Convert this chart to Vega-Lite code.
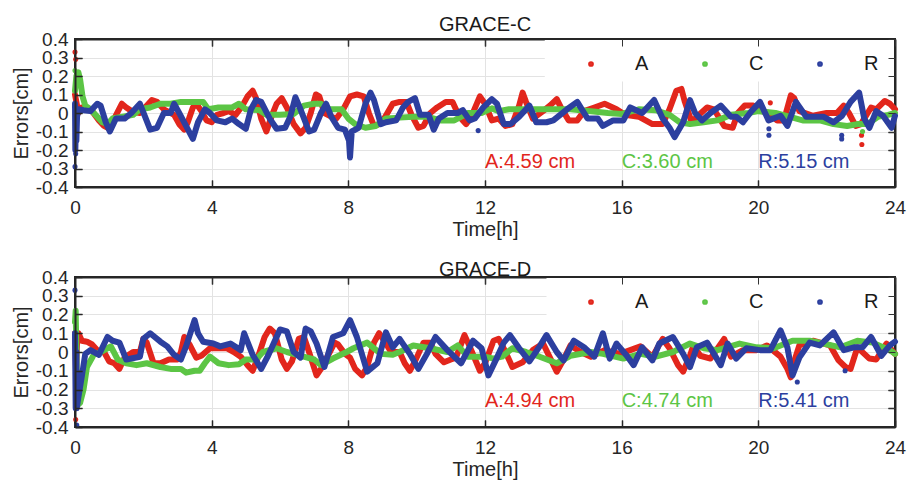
{
  "$schema": "https://vega.github.io/schema/vega-lite/v6.json",
  "padding": {"left": 10, "top": 14, "right": 8, "bottom": 0},
  "config": {
    "font": "Liberation Sans",
    "view": {"stroke": "#262626", "strokeWidth": 2},
    "axis": {
      "labelFont": "Liberation Sans", "titleFont": "Liberation Sans",
      "labelFontSize": 19, "titleFontSize": 20, "titleFontWeight": "normal",
      "labelColor": "#262626", "titleColor": "#262626",
      "gridColor": "#e3e3e3", "gridWidth": 1,
      "labelOverlap": false
    },
    "title": {"font": "Liberation Sans", "fontSize": 20, "fontWeight": "normal", "color": "#1a1a1a"},
    "legend": {"labelFont": "Liberation Sans"}
  },
  "resolve": {"legend": {"color": "independent"}},
  "spacing": 19,
  "datasets": {
    "c": [
      {"t":0,"s":"A","v":0.1},{"t":0.05,"s":"A","v":0.05},{"t":0.1,"s":"A","v":0.0},{"t":0.2,"s":"A","v":0.03},{"t":0.35,"s":"A","v":0.02},{"t":0.5,"s":"A","v":0.01},{"t":0.7,"s":"A","v":-0.04},{"t":0.85,"s":"A","v":-0.07},{"t":1.0,"s":"A","v":-0.085},{"t":1.15,"s":"A","v":-0.03},{"t":1.37,"s":"A","v":0.05},{"t":1.5,"s":"A","v":0.03},{"t":1.7,"s":"A","v":0.005},{"t":1.9,"s":"A","v":0.0},{"t":2.05,"s":"A","v":0.03},{"t":2.25,"s":"A","v":0.07},{"t":2.4,"s":"A","v":0.06},{"t":2.6,"s":"A","v":0.02},{"t":2.9,"s":"A","v":-0.01},{"t":3.05,"s":"A","v":-0.06},{"t":3.2,"s":"A","v":-0.09},{"t":3.3,"s":"A","v":-0.05},{"t":3.45,"s":"A","v":0.03},{"t":3.55,"s":"A","v":0.05},{"t":3.7,"s":"A","v":0.01},{"t":3.85,"s":"A","v":-0.04},{"t":4.0,"s":"A","v":-0.05},{"t":4.15,"s":"A","v":-0.01},{"t":4.35,"s":"A","v":0.0},{"t":4.5,"s":"A","v":0.01},{"t":4.7,"s":"A","v":-0.01},{"t":4.9,"s":"A","v":0.04},{"t":5.05,"s":"A","v":0.09},{"t":5.2,"s":"A","v":0.12},{"t":5.3,"s":"A","v":0.08},{"t":5.45,"s":"A","v":-0.03},{"t":5.6,"s":"A","v":-0.1},{"t":5.75,"s":"A","v":-0.02},{"t":5.9,"s":"A","v":0.05},{"t":6.05,"s":"A","v":0.08},{"t":6.2,"s":"A","v":0.03},{"t":6.4,"s":"A","v":-0.06},{"t":6.6,"s":"A","v":-0.11},{"t":6.75,"s":"A","v":-0.08},{"t":6.9,"s":"A","v":0.0},{"t":7.05,"s":"A","v":0.1},{"t":7.15,"s":"A","v":0.09},{"t":7.3,"s":"A","v":0.0},{"t":7.5,"s":"A","v":-0.02},{"t":7.65,"s":"A","v":-0.03},{"t":7.85,"s":"A","v":0.02},{"t":8.05,"s":"A","v":0.09},{"t":8.25,"s":"A","v":0.1},{"t":8.45,"s":"A","v":0.09},{"t":8.6,"s":"A","v":0.0},{"t":8.75,"s":"A","v":-0.07},{"t":8.9,"s":"A","v":-0.06},{"t":9.05,"s":"A","v":-0.03},{"t":9.3,"s":"A","v":0.05},{"t":9.5,"s":"A","v":0.06},{"t":9.7,"s":"A","v":0.06},{"t":9.85,"s":"A","v":-0.01},{"t":10.05,"s":"A","v":-0.08},{"t":10.2,"s":"A","v":-0.07},{"t":10.4,"s":"A","v":0.0},{"t":10.6,"s":"A","v":0.03},{"t":10.85,"s":"A","v":0.06},{"t":11.05,"s":"A","v":0.06},{"t":11.25,"s":"A","v":-0.02},{"t":11.45,"s":"A","v":-0.06},{"t":11.6,"s":"A","v":-0.02},{"t":11.85,"s":"A","v":0.09},{"t":12.0,"s":"A","v":0.05},{"t":12.2,"s":"A","v":-0.04},{"t":12.4,"s":"A","v":-0.03},{"t":12.6,"s":"A","v":-0.07},{"t":12.8,"s":"A","v":-0.06},{"t":13.0,"s":"A","v":0.04},{"t":13.1,"s":"A","v":0.11},{"t":13.2,"s":"A","v":0.06},{"t":13.4,"s":"A","v":-0.03},{"t":13.7,"s":"A","v":0.01},{"t":13.9,"s":"A","v":0.04},{"t":14.1,"s":"A","v":0.075},{"t":14.25,"s":"A","v":0.02},{"t":14.45,"s":"A","v":-0.04},{"t":14.7,"s":"A","v":-0.04},{"t":14.9,"s":"A","v":0.01},{"t":15.2,"s":"A","v":0.03},{"t":15.5,"s":"A","v":0.05},{"t":15.85,"s":"A","v":0.02},{"t":16.1,"s":"A","v":-0.01},{"t":16.5,"s":"A","v":-0.02},{"t":16.9,"s":"A","v":-0.06},{"t":17.2,"s":"A","v":-0.06},{"t":17.4,"s":"A","v":0.02},{"t":17.6,"s":"A","v":0.12},{"t":17.75,"s":"A","v":0.13},{"t":17.85,"s":"A","v":0.06},{"t":18.05,"s":"A","v":-0.05},{"t":18.2,"s":"A","v":-0.02},{"t":18.5,"s":"A","v":0.03},{"t":18.7,"s":"A","v":0.02},{"t":19.0,"s":"A","v":-0.07},{"t":19.25,"s":"A","v":-0.08},{"t":19.4,"s":"A","v":0.0},{"t":19.6,"s":"A","v":0.04},{"t":19.85,"s":"A","v":0.04},{"t":20.1,"s":"A","v":0.01},{"t":20.3,"s":"A","v":0.0},{"t":20.55,"s":"A","v":-0.04},{"t":20.75,"s":"A","v":-0.04},{"t":20.95,"s":"A","v":0.095},{"t":21.05,"s":"A","v":0.08},{"t":21.2,"s":"A","v":0.01},{"t":21.6,"s":"A","v":-0.015},{"t":22.0,"s":"A","v":0.0},{"t":22.3,"s":"A","v":0.0},{"t":22.5,"s":"A","v":0.04},{"t":22.65,"s":"A","v":0.0},{"t":22.85,"s":"A","v":-0.07},{"t":23.0,"s":"A","v":-0.06},{"t":23.3,"s":"A","v":0.03},{"t":23.45,"s":"A","v":0.02},{"t":23.7,"s":"A","v":0.065},{"t":23.85,"s":"A","v":0.05},{"t":24,"s":"A","v":0.02},
      {"t":0,"s":"A","v":0.33,"o":1},{"t":0.02,"s":"A","v":0.29,"o":1},{"t":23.02,"s":"A","v":-0.12,"o":1},{"t":23.03,"s":"A","v":-0.17,"o":1},{"t":20.35,"s":"A","v":0.055,"o":1},
      {"t":0,"s":"C","v":0.12},{"t":0.04,"s":"C","v":0.2},{"t":0.1,"s":"C","v":0.22},{"t":0.15,"s":"C","v":0.18},{"t":0.22,"s":"C","v":0.09},{"t":0.3,"s":"C","v":0.04},{"t":0.45,"s":"C","v":0.02},{"t":0.6,"s":"C","v":-0.01},{"t":0.8,"s":"C","v":-0.05},{"t":0.95,"s":"C","v":-0.06},{"t":1.1,"s":"C","v":-0.03},{"t":1.4,"s":"C","v":-0.02},{"t":1.7,"s":"C","v":-0.01},{"t":1.9,"s":"C","v":0.02},{"t":2.2,"s":"C","v":0.03},{"t":2.5,"s":"C","v":0.05},{"t":2.8,"s":"C","v":0.05},{"t":3.1,"s":"C","v":0.06},{"t":3.5,"s":"C","v":0.06},{"t":3.75,"s":"C","v":0.06},{"t":3.9,"s":"C","v":0.02},{"t":4.2,"s":"C","v":0.03},{"t":4.6,"s":"C","v":0.03},{"t":4.8,"s":"C","v":0.05},{"t":5.0,"s":"C","v":0.02},{"t":5.4,"s":"C","v":0.015},{"t":5.6,"s":"C","v":-0.01},{"t":6.0,"s":"C","v":-0.01},{"t":6.4,"s":"C","v":-0.005},{"t":6.7,"s":"C","v":0.04},{"t":7.0,"s":"C","v":0.05},{"t":7.2,"s":"C","v":0.05},{"t":7.45,"s":"C","v":0.02},{"t":7.8,"s":"C","v":0.02},{"t":8.0,"s":"C","v":-0.03},{"t":8.2,"s":"C","v":-0.06},{"t":8.5,"s":"C","v":-0.08},{"t":8.8,"s":"C","v":-0.07},{"t":9.1,"s":"C","v":-0.03},{"t":9.5,"s":"C","v":-0.025},{"t":9.9,"s":"C","v":-0.02},{"t":10.3,"s":"C","v":-0.02},{"t":10.7,"s":"C","v":-0.04},{"t":11.1,"s":"C","v":-0.04},{"t":11.5,"s":"C","v":0.0},{"t":11.9,"s":"C","v":0.0},{"t":12.2,"s":"C","v":0.025},{"t":12.4,"s":"C","v":0.01},{"t":12.7,"s":"C","v":0.02},{"t":13.2,"s":"C","v":0.02},{"t":13.8,"s":"C","v":0.02},{"t":14.5,"s":"C","v":0.02},{"t":15.1,"s":"C","v":0.01},{"t":15.6,"s":"C","v":0.0},{"t":16.0,"s":"C","v":-0.005},{"t":16.5,"s":"C","v":0.02},{"t":17.0,"s":"C","v":0.015},{"t":17.4,"s":"C","v":-0.01},{"t":17.7,"s":"C","v":-0.05},{"t":18.0,"s":"C","v":-0.06},{"t":18.4,"s":"C","v":-0.05},{"t":18.8,"s":"C","v":-0.04},{"t":19.2,"s":"C","v":-0.01},{"t":19.7,"s":"C","v":0.0},{"t":20.0,"s":"C","v":0.01},{"t":20.5,"s":"C","v":0.0},{"t":20.9,"s":"C","v":-0.02},{"t":21.3,"s":"C","v":-0.04},{"t":21.8,"s":"C","v":-0.04},{"t":22.2,"s":"C","v":-0.06},{"t":22.6,"s":"C","v":-0.07},{"t":22.9,"s":"C","v":-0.06},{"t":23.2,"s":"C","v":-0.06},{"t":23.5,"s":"C","v":-0.02},{"t":23.8,"s":"C","v":-0.01},{"t":24,"s":"C","v":0.0},
      {"t":0,"s":"C","v":0.23,"o":1},{"t":23.05,"s":"C","v":-0.1,"o":1},
      {"t":0,"s":"R","v":0.05},{"t":0.01,"s":"R","v":-0.2},{"t":0.02,"s":"R","v":-0.1},{"t":0.04,"s":"R","v":-0.15},{"t":0.06,"s":"R","v":-0.02},{"t":0.1,"s":"R","v":0.02},{"t":0.25,"s":"R","v":0.015},{"t":0.45,"s":"R","v":0.01},{"t":0.65,"s":"R","v":0.05},{"t":0.75,"s":"R","v":0.04},{"t":0.9,"s":"R","v":-0.05},{"t":1.02,"s":"R","v":-0.1},{"t":1.2,"s":"R","v":-0.03},{"t":1.45,"s":"R","v":-0.03},{"t":1.65,"s":"R","v":0.0},{"t":1.9,"s":"R","v":0.05},{"t":2.05,"s":"R","v":-0.02},{"t":2.2,"s":"R","v":-0.09},{"t":2.4,"s":"R","v":-0.08},{"t":2.6,"s":"R","v":0.0},{"t":2.8,"s":"R","v":0.0},{"t":2.9,"s":"R","v":0.05},{"t":3.05,"s":"R","v":0.0},{"t":3.25,"s":"R","v":-0.07},{"t":3.45,"s":"R","v":-0.14},{"t":3.6,"s":"R","v":-0.05},{"t":3.8,"s":"R","v":0.02},{"t":3.95,"s":"R","v":0.0},{"t":4.15,"s":"R","v":-0.04},{"t":4.4,"s":"R","v":-0.05},{"t":4.6,"s":"R","v":-0.03},{"t":4.8,"s":"R","v":-0.06},{"t":5.0,"s":"R","v":-0.085},{"t":5.15,"s":"R","v":0.02},{"t":5.3,"s":"R","v":0.07},{"t":5.45,"s":"R","v":0.06},{"t":5.7,"s":"R","v":-0.03},{"t":5.9,"s":"R","v":-0.085},{"t":6.15,"s":"R","v":-0.08},{"t":6.3,"s":"R","v":-0.02},{"t":6.45,"s":"R","v":0.085},{"t":6.6,"s":"R","v":0.02},{"t":6.85,"s":"R","v":-0.1},{"t":7.0,"s":"R","v":-0.09},{"t":7.2,"s":"R","v":0.0},{"t":7.35,"s":"R","v":0.05},{"t":7.5,"s":"R","v":-0.02},{"t":7.7,"s":"R","v":-0.08},{"t":7.9,"s":"R","v":-0.09},{"t":8.02,"s":"R","v":-0.15},{"t":8.05,"s":"R","v":-0.24},{"t":8.1,"s":"R","v":-0.1},{"t":8.3,"s":"R","v":-0.08},{"t":8.5,"s":"R","v":0.05},{"t":8.65,"s":"R","v":0.11},{"t":8.75,"s":"R","v":0.07},{"t":8.95,"s":"R","v":-0.06},{"t":9.1,"s":"R","v":-0.05},{"t":9.4,"s":"R","v":-0.04},{"t":9.6,"s":"R","v":0.03},{"t":9.75,"s":"R","v":0.06},{"t":9.95,"s":"R","v":0.08},{"t":10.1,"s":"R","v":-0.01},{"t":10.35,"s":"R","v":-0.01},{"t":10.5,"s":"R","v":-0.09},{"t":10.65,"s":"R","v":-0.03},{"t":10.9,"s":"R","v":0.0},{"t":11.2,"s":"R","v":0.0},{"t":11.35,"s":"R","v":0.015},{"t":11.55,"s":"R","v":-0.04},{"t":11.7,"s":"R","v":-0.03},{"t":11.95,"s":"R","v":0.03},{"t":12.2,"s":"R","v":0.075},{"t":12.35,"s":"R","v":0.05},{"t":12.55,"s":"R","v":-0.06},{"t":12.75,"s":"R","v":-0.06},{"t":13.0,"s":"R","v":-0.02},{"t":13.3,"s":"R","v":0.04},{"t":13.5,"s":"R","v":-0.05},{"t":13.8,"s":"R","v":-0.05},{"t":14.0,"s":"R","v":-0.04},{"t":14.4,"s":"R","v":0.02},{"t":14.7,"s":"R","v":0.06},{"t":15.0,"s":"R","v":-0.03},{"t":15.3,"s":"R","v":-0.03},{"t":15.45,"s":"R","v":-0.07},{"t":15.75,"s":"R","v":-0.04},{"t":16.05,"s":"R","v":-0.04},{"t":16.25,"s":"R","v":0.03},{"t":16.6,"s":"R","v":0.0},{"t":16.95,"s":"R","v":0.07},{"t":17.2,"s":"R","v":-0.03},{"t":17.4,"s":"R","v":-0.08},{"t":17.55,"s":"R","v":-0.13},{"t":17.8,"s":"R","v":-0.05},{"t":18.0,"s":"R","v":0.07},{"t":18.15,"s":"R","v":0.0},{"t":18.35,"s":"R","v":-0.04},{"t":18.6,"s":"R","v":0.0},{"t":18.9,"s":"R","v":0.04},{"t":19.2,"s":"R","v":-0.02},{"t":19.35,"s":"R","v":-0.02},{"t":19.55,"s":"R","v":-0.05},{"t":19.8,"s":"R","v":0.01},{"t":20.05,"s":"R","v":0.06},{"t":20.3,"s":"R","v":-0.04},{"t":20.65,"s":"R","v":-0.015},{"t":20.85,"s":"R","v":-0.07},{"t":21.1,"s":"R","v":0.06},{"t":21.4,"s":"R","v":-0.02},{"t":21.9,"s":"R","v":-0.02},{"t":22.2,"s":"R","v":-0.05},{"t":22.45,"s":"R","v":-0.015},{"t":22.7,"s":"R","v":0.06},{"t":22.95,"s":"R","v":0.11},{"t":23.1,"s":"R","v":-0.03},{"t":23.25,"s":"R","v":-0.08},{"t":23.45,"s":"R","v":0.01},{"t":23.65,"s":"R","v":-0.015},{"t":23.9,"s":"R","v":-0.08},{"t":24,"s":"R","v":-0.015},
      {"t":0,"s":"R","v":-0.29,"o":1},{"t":0.02,"s":"R","v":-0.22,"o":1},{"t":11.8,"s":"R","v":-0.095,"o":1},{"t":20.31,"s":"R","v":-0.085,"o":1},{"t":20.31,"s":"R","v":-0.12,"o":1},{"t":22.44,"s":"R","v":-0.12,"o":1},{"t":22.44,"s":"R","v":-0.14,"o":1}
    ],
    "d": [
      {"t":0,"s":"A","v":0.1},{"t":0.03,"s":"A","v":-0.1},{"t":0.06,"s":"A","v":0.05},{"t":0.1,"s":"A","v":0.1},{"t":0.2,"s":"A","v":0.06},{"t":0.35,"s":"A","v":0.055},{"t":0.5,"s":"A","v":0.04},{"t":0.7,"s":"A","v":0.0},{"t":0.85,"s":"A","v":0.0},{"t":1.0,"s":"A","v":-0.05},{"t":1.15,"s":"A","v":-0.06},{"t":1.3,"s":"A","v":-0.09},{"t":1.45,"s":"A","v":-0.03},{"t":1.7,"s":"A","v":0.0},{"t":1.9,"s":"A","v":0.0},{"t":2.0,"s":"A","v":0.07},{"t":2.1,"s":"A","v":0.05},{"t":2.3,"s":"A","v":-0.06},{"t":2.5,"s":"A","v":-0.06},{"t":2.75,"s":"A","v":-0.04},{"t":3.0,"s":"A","v":-0.04},{"t":3.1,"s":"A","v":0.0},{"t":3.2,"s":"A","v":0.08},{"t":3.35,"s":"A","v":0.04},{"t":3.55,"s":"A","v":-0.03},{"t":3.7,"s":"A","v":-0.02},{"t":3.95,"s":"A","v":0.02},{"t":4.2,"s":"A","v":0.02},{"t":4.45,"s":"A","v":0.02},{"t":4.65,"s":"A","v":0.0},{"t":4.85,"s":"A","v":-0.025},{"t":5.05,"s":"A","v":-0.07},{"t":5.2,"s":"A","v":-0.1},{"t":5.35,"s":"A","v":-0.03},{"t":5.55,"s":"A","v":0.08},{"t":5.7,"s":"A","v":0.125},{"t":5.85,"s":"A","v":0.1},{"t":6.05,"s":"A","v":-0.04},{"t":6.2,"s":"A","v":-0.09},{"t":6.35,"s":"A","v":-0.05},{"t":6.55,"s":"A","v":0.07},{"t":6.7,"s":"A","v":0.08},{"t":6.85,"s":"A","v":0.0},{"t":7.07,"s":"A","v":-0.125},{"t":7.2,"s":"A","v":-0.09},{"t":7.4,"s":"A","v":-0.02},{"t":7.6,"s":"A","v":0.05},{"t":7.7,"s":"A","v":0.04},{"t":7.9,"s":"A","v":-0.01},{"t":8.05,"s":"A","v":-0.03},{"t":8.2,"s":"A","v":-0.09},{"t":8.4,"s":"A","v":-0.125},{"t":8.55,"s":"A","v":-0.08},{"t":8.75,"s":"A","v":0.05},{"t":8.9,"s":"A","v":0.1},{"t":9.05,"s":"A","v":0.06},{"t":9.25,"s":"A","v":0.0},{"t":9.5,"s":"A","v":0.0},{"t":9.65,"s":"A","v":-0.06},{"t":9.8,"s":"A","v":-0.1},{"t":9.95,"s":"A","v":-0.05},{"t":10.2,"s":"A","v":0.05},{"t":10.4,"s":"A","v":0.05},{"t":10.55,"s":"A","v":-0.01},{"t":10.8,"s":"A","v":-0.055},{"t":11.0,"s":"A","v":-0.04},{"t":11.15,"s":"A","v":-0.03},{"t":11.4,"s":"A","v":0.09},{"t":11.55,"s":"A","v":0.03},{"t":11.85,"s":"A","v":-0.1},{"t":12.0,"s":"A","v":-0.06},{"t":12.25,"s":"A","v":0.06},{"t":12.4,"s":"A","v":0.07},{"t":12.6,"s":"A","v":0.0},{"t":12.8,"s":"A","v":-0.08},{"t":13.1,"s":"A","v":-0.055},{"t":13.4,"s":"A","v":0.01},{"t":13.7,"s":"A","v":0.045},{"t":13.9,"s":"A","v":-0.03},{"t":14.1,"s":"A","v":-0.105},{"t":14.3,"s":"A","v":-0.04},{"t":14.5,"s":"A","v":0.035},{"t":14.8,"s":"A","v":0.0},{"t":15.1,"s":"A","v":-0.025},{"t":15.5,"s":"A","v":0.01},{"t":15.95,"s":"A","v":-0.01},{"t":16.25,"s":"A","v":0.01},{"t":16.55,"s":"A","v":0.03},{"t":16.9,"s":"A","v":-0.025},{"t":17.2,"s":"A","v":0.07},{"t":17.4,"s":"A","v":0.02},{"t":17.65,"s":"A","v":-0.07},{"t":17.8,"s":"A","v":-0.105},{"t":18.0,"s":"A","v":-0.02},{"t":18.1,"s":"A","v":0.035},{"t":18.3,"s":"A","v":-0.02},{"t":18.6,"s":"A","v":-0.035},{"t":19.0,"s":"A","v":0.07},{"t":19.2,"s":"A","v":-0.025},{"t":19.55,"s":"A","v":0.01},{"t":19.95,"s":"A","v":0.01},{"t":20.25,"s":"A","v":0.035},{"t":20.65,"s":"A","v":-0.025},{"t":20.85,"s":"A","v":-0.09},{"t":20.95,"s":"A","v":-0.135},{"t":21.05,"s":"A","v":-0.05},{"t":21.2,"s":"A","v":0.035},{"t":21.6,"s":"A","v":0.06},{"t":22.1,"s":"A","v":0.035},{"t":22.35,"s":"A","v":-0.045},{"t":22.55,"s":"A","v":-0.08},{"t":22.7,"s":"A","v":-0.09},{"t":22.9,"s":"A","v":0.025},{"t":23.25,"s":"A","v":-0.035},{"t":23.45,"s":"A","v":-0.04},{"t":23.75,"s":"A","v":0.045},{"t":24,"s":"A","v":-0.01},
      {"t":0.02,"s":"A","v":-0.36,"o":1},
      {"t":0,"s":"C","v":0.16},{"t":0.02,"s":"C","v":0.22},{"t":0.05,"s":"C","v":-0.1},{"t":0.1,"s":"C","v":-0.28},{"t":0.15,"s":"C","v":-0.27},{"t":0.25,"s":"C","v":-0.2},{"t":0.35,"s":"C","v":-0.08},{"t":0.55,"s":"C","v":-0.015},{"t":0.75,"s":"C","v":0.0},{"t":0.95,"s":"C","v":0.02},{"t":1.05,"s":"C","v":0.03},{"t":1.25,"s":"C","v":-0.04},{"t":1.5,"s":"C","v":-0.06},{"t":1.8,"s":"C","v":-0.07},{"t":2.1,"s":"C","v":-0.06},{"t":2.5,"s":"C","v":-0.08},{"t":2.8,"s":"C","v":-0.09},{"t":3.1,"s":"C","v":-0.09},{"t":3.25,"s":"C","v":-0.11},{"t":3.5,"s":"C","v":-0.1},{"t":3.65,"s":"C","v":-0.1},{"t":3.8,"s":"C","v":-0.06},{"t":3.95,"s":"C","v":-0.025},{"t":4.2,"s":"C","v":-0.06},{"t":4.5,"s":"C","v":-0.07},{"t":4.8,"s":"C","v":-0.065},{"t":5.0,"s":"C","v":-0.04},{"t":5.3,"s":"C","v":-0.04},{"t":5.5,"s":"C","v":0.0},{"t":5.9,"s":"C","v":0.02},{"t":6.2,"s":"C","v":0.0},{"t":6.5,"s":"C","v":-0.015},{"t":6.8,"s":"C","v":-0.03},{"t":7.0,"s":"C","v":-0.04},{"t":7.2,"s":"C","v":-0.07},{"t":7.55,"s":"C","v":-0.035},{"t":7.95,"s":"C","v":0.0},{"t":8.15,"s":"C","v":0.02},{"t":8.55,"s":"C","v":0.05},{"t":8.95,"s":"C","v":-0.01},{"t":9.3,"s":"C","v":-0.015},{"t":9.5,"s":"C","v":0.0},{"t":9.9,"s":"C","v":0.035},{"t":10.4,"s":"C","v":0.02},{"t":10.9,"s":"C","v":0.0},{"t":11.2,"s":"C","v":0.035},{"t":11.5,"s":"C","v":-0.025},{"t":12.0,"s":"C","v":-0.025},{"t":12.25,"s":"C","v":-0.035},{"t":12.5,"s":"C","v":-0.025},{"t":12.8,"s":"C","v":0.02},{"t":13.2,"s":"C","v":0.0},{"t":13.6,"s":"C","v":-0.025},{"t":14.1,"s":"C","v":-0.06},{"t":14.5,"s":"C","v":-0.02},{"t":15.1,"s":"C","v":0.0},{"t":15.45,"s":"C","v":-0.01},{"t":16.05,"s":"C","v":-0.035},{"t":16.55,"s":"C","v":-0.01},{"t":17.0,"s":"C","v":-0.025},{"t":17.5,"s":"C","v":0.0},{"t":18.0,"s":"C","v":0.045},{"t":18.4,"s":"C","v":0.02},{"t":18.8,"s":"C","v":0.01},{"t":19.45,"s":"C","v":0.045},{"t":19.95,"s":"C","v":0.025},{"t":20.45,"s":"C","v":0.02},{"t":21.0,"s":"C","v":0.06},{"t":21.5,"s":"C","v":0.06},{"t":21.9,"s":"C","v":0.045},{"t":22.4,"s":"C","v":0.025},{"t":22.9,"s":"C","v":0.06},{"t":23.35,"s":"C","v":0.05},{"t":23.85,"s":"C","v":0.01},{"t":24,"s":"C","v":-0.01},
      {"t":0,"s":"R","v":0.1},{"t":0.02,"s":"R","v":-0.3},{"t":0.04,"s":"R","v":0.0},{"t":0.05,"s":"R","v":-0.3},{"t":0.1,"s":"R","v":-0.24},{"t":0.2,"s":"R","v":-0.13},{"t":0.3,"s":"R","v":-0.01},{"t":0.45,"s":"R","v":0.01},{"t":0.7,"s":"R","v":-0.015},{"t":0.95,"s":"R","v":0.08},{"t":1.1,"s":"R","v":0.06},{"t":1.3,"s":"R","v":0.05},{"t":1.5,"s":"R","v":-0.04},{"t":1.9,"s":"R","v":-0.025},{"t":2.0,"s":"R","v":0.07},{"t":2.2,"s":"R","v":0.1},{"t":2.5,"s":"R","v":0.055},{"t":2.7,"s":"R","v":0.03},{"t":2.9,"s":"R","v":-0.015},{"t":3.1,"s":"R","v":-0.04},{"t":3.25,"s":"R","v":0.03},{"t":3.5,"s":"R","v":0.17},{"t":3.6,"s":"R","v":0.1},{"t":3.75,"s":"R","v":0.055},{"t":4.05,"s":"R","v":0.045},{"t":4.25,"s":"R","v":0.03},{"t":4.55,"s":"R","v":0.045},{"t":4.85,"s":"R","v":0.01},{"t":4.95,"s":"R","v":0.1},{"t":5.2,"s":"R","v":-0.015},{"t":5.45,"s":"R","v":-0.09},{"t":5.65,"s":"R","v":-0.02},{"t":5.8,"s":"R","v":0.04},{"t":6.0,"s":"R","v":0.12},{"t":6.2,"s":"R","v":0.11},{"t":6.4,"s":"R","v":0.0},{"t":6.6,"s":"R","v":-0.03},{"t":6.75,"s":"R","v":0.125},{"t":6.9,"s":"R","v":0.11},{"t":7.07,"s":"R","v":0.045},{"t":7.3,"s":"R","v":-0.08},{"t":7.55,"s":"R","v":0.08},{"t":7.85,"s":"R","v":0.1},{"t":8.05,"s":"R","v":0.17},{"t":8.25,"s":"R","v":0.08},{"t":8.55,"s":"R","v":-0.105},{"t":8.85,"s":"R","v":-0.06},{"t":9.1,"s":"R","v":0.105},{"t":9.3,"s":"R","v":0.025},{"t":9.5,"s":"R","v":0.07},{"t":9.8,"s":"R","v":-0.01},{"t":10.05,"s":"R","v":-0.09},{"t":10.3,"s":"R","v":-0.01},{"t":10.55,"s":"R","v":0.08},{"t":10.9,"s":"R","v":0.01},{"t":11.3,"s":"R","v":-0.06},{"t":11.65,"s":"R","v":0.06},{"t":11.9,"s":"R","v":0.02},{"t":12.1,"s":"R","v":-0.125},{"t":12.35,"s":"R","v":-0.03},{"t":12.55,"s":"R","v":0.05},{"t":12.73,"s":"R","v":0.09},{"t":13.0,"s":"R","v":0.02},{"t":13.3,"s":"R","v":-0.05},{"t":13.6,"s":"R","v":0.03},{"t":13.8,"s":"R","v":0.09},{"t":14.1,"s":"R","v":0.0},{"t":14.3,"s":"R","v":-0.045},{"t":14.6,"s":"R","v":0.06},{"t":14.9,"s":"R","v":0.025},{"t":15.2,"s":"R","v":-0.025},{"t":15.45,"s":"R","v":0.1},{"t":15.65,"s":"R","v":-0.035},{"t":15.85,"s":"R","v":0.045},{"t":16.15,"s":"R","v":-0.02},{"t":16.35,"s":"R","v":-0.07},{"t":16.6,"s":"R","v":0.025},{"t":16.9,"s":"R","v":-0.045},{"t":17.1,"s":"R","v":0.045},{"t":17.5,"s":"R","v":0.08},{"t":17.8,"s":"R","v":-0.01},{"t":18.0,"s":"R","v":-0.08},{"t":18.2,"s":"R","v":0.025},{"t":18.5,"s":"R","v":0.05},{"t":18.9,"s":"R","v":-0.07},{"t":19.1,"s":"R","v":0.045},{"t":19.35,"s":"R","v":-0.035},{"t":19.65,"s":"R","v":0.02},{"t":20.05,"s":"R","v":0.01},{"t":20.35,"s":"R","v":0.01},{"t":20.65,"s":"R","v":0.115},{"t":20.85,"s":"R","v":0.025},{"t":21.0,"s":"R","v":-0.125},{"t":21.2,"s":"R","v":-0.03},{"t":21.5,"s":"R","v":0.05},{"t":21.8,"s":"R","v":0.035},{"t":22.2,"s":"R","v":0.105},{"t":22.5,"s":"R","v":0.01},{"t":22.8,"s":"R","v":0.025},{"t":23.05,"s":"R","v":0.025},{"t":23.3,"s":"R","v":0.08},{"t":23.6,"s":"R","v":-0.02},{"t":23.85,"s":"R","v":0.035},{"t":24,"s":"R","v":0.055},
      {"t":0,"s":"R","v":0.33,"o":1},{"t":0.05,"s":"R","v":-0.39,"o":1},{"t":21.14,"s":"R","v":-0.16,"o":1},{"t":22.54,"s":"R","v":-0.1,"o":1}
    ]
  },
  "vconcat": [
    {
      "width": 820, "height": 148,
      "title": {"text": "GRACE-C", "offset": -5},
      "data": {"name": "c"},
      "resolve": {"axis": {"x": "independent", "y": "independent"}},
      "layer": [
        {
          "data": {"values": [{}]},
          "mark": {"type": "rect", "fill": "white"},
          "encoding": {
            "x": {"datum": 13.75, "type": "quantitative", "axis": {"orient": "top", "labels": false, "title": null, "grid": true, "domain": true, "ticks": true, "tickSize": -7, "domainColor": "#262626", "domainWidth": 2, "tickColor": "#262626", "tickWidth": 1.5, "values": [4,8,12,16,20], "zindex": 0}},
            "x2": {"datum": 23.97},
            "y": {"datum": 0.17, "type": "quantitative", "axis": {"orient": "right", "labels": false, "title": null, "grid": true, "domain": true, "ticks": true, "tickSize": -7, "domainColor": "#262626", "domainWidth": 2, "tickColor": "#262626", "tickWidth": 1.5, "values": [-0.3,-0.2,-0.1,0,0.1,0.2,0.3], "zindex": 0}},
            "y2": {"datum": 0.395}
          }
        },
        {
          "transform": [{"filter": "!datum.o"}],
          "mark": {"type": "line", "strokeWidth": 6, "strokeCap": "round", "strokeJoin": "round"},
          "encoding": {
            "x": {"field": "t", "type": "quantitative", "scale": {"domain": [0, 24], "nice": false, "zero": false},
                  "axis": {"orient": "bottom", "title": "Time[h]", "values": [0,4,8,12,16,20,24], "domain": true, "ticks": true, "tickSize": -7, "domainColor": "#262626", "domainWidth": 2, "tickColor": "#262626", "tickWidth": 1.5, "labelPadding": 18, "titlePadding": 2, "labelFlush": false, "zindex": 1,
                           "grid": true, "gridColor": "#333333", "gridOpacity": 1, "gridWidth": 1, "gridDash": [7, 134, 7]}},
            "y": {"field": "v", "type": "quantitative", "scale": {"domain": [-0.4, 0.4], "nice": false, "zero": false},
                  "axis": {"orient": "left", "title": "Errors[cm]", "values": [-0.4,-0.3,-0.2,-0.1,0,0.1,0.2,0.3,0.4], "domain": true, "ticks": true, "tickSize": -7, "domainColor": "#262626", "domainWidth": 2, "tickColor": "#262626", "tickWidth": 1.5, "labelPadding": 14, "titlePadding": 4, "labelFlush": false, "zindex": 1, "labelExpr": "toString(round(datum.value*10)/10)",
                           "grid": true, "gridColor": "#333333", "gridOpacity": 1, "gridWidth": 1, "gridDash": [7, 806, 7]}},
            "color": {"field": "s", "type": "nominal", "scale": {"domain": ["A", "C", "R"], "range": ["#e2261c", "#5cc545", "#2c3f9f"]},
                      "legend": {"orient": "none", "legendX": 506, "legendY": 15, "direction": "horizontal", "title": null, "symbolType": "circle", "symbolSize": 5, "symbolStrokeWidth": 3.5, "labelFontSize": 20, "labelColor": "#1a1a1a", "labelOffset": 34, "columnPadding": 46, "padding": 0}}
          }
        },
        {
          "transform": [{"filter": "datum.o"}],
          "mark": {"type": "point", "filled": true, "size": 26, "opacity": 1},
          "encoding": {
            "x": {"field": "t", "type": "quantitative", "axis": null},
            "y": {"field": "v", "type": "quantitative", "axis": null},
            "color": {"field": "s", "type": "nominal", "legend": null}
          }
        },
        {
          "data": {"values": [{"label": "A:4.59 cm"}]},
          "mark": {"type": "text", "align": "left", "baseline": "middle", "fontSize": 20, "color": "#e2261c"},
          "encoding": {"x": {"datum": 12, "type": "quantitative", "axis": null}, "y": {"datum": -0.265, "type": "quantitative", "axis": null}, "text": {"field": "label"}}
        },
        {
          "data": {"values": [{"label": "C:3.60 cm"}]},
          "mark": {"type": "text", "align": "left", "baseline": "middle", "fontSize": 20, "color": "#5cc545"},
          "encoding": {"x": {"datum": 16, "type": "quantitative", "axis": null}, "y": {"datum": -0.265, "type": "quantitative", "axis": null}, "text": {"field": "label"}}
        },
        {
          "data": {"values": [{"label": "R:5.15 cm"}]},
          "mark": {"type": "text", "align": "left", "baseline": "middle", "fontSize": 20, "color": "#2c3f9f"},
          "encoding": {"x": {"datum": 20, "type": "quantitative", "axis": null}, "y": {"datum": -0.265, "type": "quantitative", "axis": null}, "text": {"field": "label"}}
        }
      ]
    },
    {
      "width": 820, "height": 150,
      "title": {"text": "GRACE-D", "offset": -12},
      "data": {"name": "d"},
      "resolve": {"axis": {"x": "independent", "y": "independent"}},
      "layer": [
        {
          "data": {"values": [{}]},
          "mark": {"type": "rect", "fill": "white"},
          "encoding": {
            "x": {"datum": 13.8, "type": "quantitative", "axis": {"orient": "top", "labels": false, "title": null, "grid": true, "domain": true, "ticks": true, "tickSize": -7, "domainColor": "#262626", "domainWidth": 2, "tickColor": "#262626", "tickWidth": 1.5, "values": [4,8,12,16,20], "zindex": 0}},
            "x2": {"datum": 23.97},
            "y": {"datum": 0.17, "type": "quantitative", "axis": {"orient": "right", "labels": false, "title": null, "grid": true, "domain": true, "ticks": true, "tickSize": -7, "domainColor": "#262626", "domainWidth": 2, "tickColor": "#262626", "tickWidth": 1.5, "values": [-0.3,-0.2,-0.1,0,0.1,0.2,0.3], "zindex": 0}},
            "y2": {"datum": 0.395}
          }
        },
        {
          "transform": [{"filter": "!datum.o"}],
          "mark": {"type": "line", "strokeWidth": 6, "strokeCap": "round", "strokeJoin": "round"},
          "encoding": {
            "x": {"field": "t", "type": "quantitative", "scale": {"domain": [0, 24], "nice": false, "zero": false},
                  "axis": {"orient": "bottom", "title": "Time[h]", "values": [0,4,8,12,16,20,24], "domain": true, "ticks": true, "tickSize": -7, "domainColor": "#262626", "domainWidth": 2, "tickColor": "#262626", "tickWidth": 1.5, "labelPadding": 18, "titlePadding": 2, "labelFlush": false, "zindex": 1,
                           "grid": true, "gridColor": "#333333", "gridOpacity": 1, "gridWidth": 1, "gridDash": [7, 136, 7]}},
            "y": {"field": "v", "type": "quantitative", "scale": {"domain": [-0.4, 0.4], "nice": false, "zero": false},
                  "axis": {"orient": "left", "title": "Errors[cm]", "values": [-0.4,-0.3,-0.2,-0.1,0,0.1,0.2,0.3,0.4], "domain": true, "ticks": true, "tickSize": -7, "domainColor": "#262626", "domainWidth": 2, "tickColor": "#262626", "tickWidth": 1.5, "labelPadding": 14, "titlePadding": 4, "labelFlush": false, "zindex": 1, "labelExpr": "toString(round(datum.value*10)/10)",
                           "grid": true, "gridColor": "#333333", "gridOpacity": 1, "gridWidth": 1, "gridDash": [7, 806, 7]}},
            "color": {"field": "s", "type": "nominal", "scale": {"domain": ["A", "C", "R"], "range": ["#e2261c", "#5cc545", "#2c3f9f"]},
                      "legend": {"orient": "none", "legendX": 506, "legendY": 15, "direction": "horizontal", "title": null, "symbolType": "circle", "symbolSize": 5, "symbolStrokeWidth": 3.5, "labelFontSize": 20, "labelColor": "#1a1a1a", "labelOffset": 34, "columnPadding": 46, "padding": 0}}
          }
        },
        {
          "transform": [{"filter": "datum.o"}],
          "mark": {"type": "point", "filled": true, "size": 26, "opacity": 1},
          "encoding": {
            "x": {"field": "t", "type": "quantitative", "axis": null},
            "y": {"field": "v", "type": "quantitative", "axis": null},
            "color": {"field": "s", "type": "nominal", "legend": null}
          }
        },
        {
          "data": {"values": [{"label": "A:4.94 cm"}]},
          "mark": {"type": "text", "align": "left", "baseline": "middle", "fontSize": 20, "color": "#e2261c"},
          "encoding": {"x": {"datum": 12, "type": "quantitative", "axis": null}, "y": {"datum": -0.26, "type": "quantitative", "axis": null}, "text": {"field": "label"}}
        },
        {
          "data": {"values": [{"label": "C:4.74 cm"}]},
          "mark": {"type": "text", "align": "left", "baseline": "middle", "fontSize": 20, "color": "#5cc545"},
          "encoding": {"x": {"datum": 16, "type": "quantitative", "axis": null}, "y": {"datum": -0.26, "type": "quantitative", "axis": null}, "text": {"field": "label"}}
        },
        {
          "data": {"values": [{"label": "R:5.41 cm"}]},
          "mark": {"type": "text", "align": "left", "baseline": "middle", "fontSize": 20, "color": "#2c3f9f"},
          "encoding": {"x": {"datum": 20, "type": "quantitative", "axis": null}, "y": {"datum": -0.26, "type": "quantitative", "axis": null}, "text": {"field": "label"}}
        }
      ]
    }
  ]
}
